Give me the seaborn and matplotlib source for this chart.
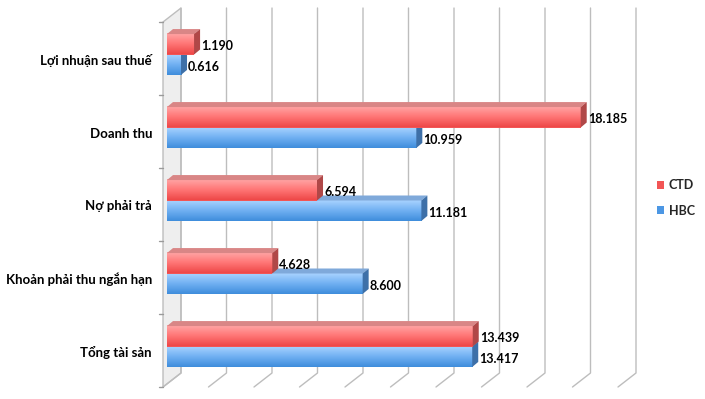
import numpy as np
import pandas as pd
import matplotlib
matplotlib.use('Agg')
import matplotlib.pyplot as plt
import matplotlib.transforms as mtransforms
from matplotlib.patches import Polygon, Patch
from matplotlib.colors import LinearSegmentedColormap
import seaborn as sns

# ---------------- data ----------------
categories = ["Lợi nhuận sau thuế", "Doanh thu", "Nợ phải trả",
              "Khoản phải thu ngắn hạn", "Tổng tài sản"]
series = ["CTD", "HBC"]
ctd_values = [1.190, 18.185, 6.594, 4.628, 13.439]
hbc_values = [0.616, 10.959, 11.181, 8.600, 13.417]
x_grid = list(range(0, 21, 2))

# ---------------- style ----------------
sns.set_theme(style='white')
plt.rcParams['font.family'] = ['Lato', 'DejaVu Sans']
FS_VAL = 9
FS_CAT = 9.5
FS_LEG = 9

base_colors = {"CTD": "#F25555", "HBC": "#4C97E4"}
grad_maps = {
    "CTD": LinearSegmentedColormap.from_list("r", ["#FFA6A6", "#FF7676", "#EE4848"]),
    "HBC": LinearSegmentedColormap.from_list("b", ["#A9D3FF", "#70B0F2", "#3F8DDC"]),
}
top_colors = {"CTD": "#D98686", "HBC": "#7FA9DA"}
side_colors = {"CTD": "#B04848", "HBC": "#3E70A8"}
zbase = {"CTD": 5, "HBC": 3}

df = pd.DataFrame({
    'category': categories * 2,
    'series': [series[0]] * len(categories) + [series[1]] * len(categories),
    'value': ctd_values + hbc_values,
})

W, H = 705, 399
fig = plt.figure(figsize=(W / 100, H / 100), dpi=100)
ax = fig.add_axes([167 / W, 16 / H, 455 / W, 365 / H])

sns.barplot(data=df, x='value', y='category', hue='series', hue_order=series,
            order=categories, orient='h',
            palette=[base_colors[s] for s in series],
            width=0.56, linewidth=0, legend=False, ax=ax, saturation=1)
ax.set_xlim(0, 20)
ax.set_ylim(4.5, -0.5)
ax.axis('off')


def off(dx, dy):
    return mtransforms.offset_copy(ax.transData, fig=fig, x=dx, y=dy, units='dots')


FRONT = (-4, -4)
BACK = (14, 10)
DEPTH = (6, 5)
inv = fig.transFigure.inverted()


def to_fig(pts):
    return inv.transform(np.asarray(pts))


def disp(tr, x, y):
    return tr.transform((x, y))


def add_fig_line(pts, **kw):
    pts = to_fig(pts)
    ln = plt.Line2D(pts[:, 0], pts[:, 1], transform=fig.transFigure, **kw)
    ln.set_clip_on(False)
    ax.add_line(ln)


def add_fig_poly(pts, **kw):
    pg = Polygon(to_fig(pts), closed=True, transform=fig.transFigure, **kw)
    pg.set_clip_on(False)
    ax.add_patch(pg)


ymin_d, ymax_d = -0.5, 4.5
grid_col = '#BDBDBD'

# left wall
fr_top = disp(off(*FRONT), 0, ymin_d)
fr_bot = disp(off(*FRONT), 0, ymax_d)
bk_top = disp(off(*BACK), 0, ymin_d)
bk_bot = disp(off(*BACK), 0, ymax_d)
add_fig_poly([fr_bot, fr_top, bk_top, bk_bot], facecolor='#EEEEEE',
             edgecolor=grid_col, lw=1, zorder=0.5)

# back wall grid lines and floor lines
for xv in x_grid:
    b_top = disp(off(*BACK), xv, ymin_d)
    b_bot = disp(off(*BACK), xv, ymax_d)
    f_bot = disp(off(*FRONT), xv, ymax_d)
    add_fig_line([b_top, b_bot, f_bot], color=grid_col, lw=1, zorder=0.6)

# left ticks at category boundaries
for yb in np.arange(ymin_d, ymax_d + 0.01, 1.0):
    p = disp(off(*FRONT), 0, yb)
    add_fig_line([p, (p[0] - 4, p[1])], color='#9A9A9A', lw=1, zorder=0.6)

# bars: gradient fronts + 3D faces
grad = np.linspace(0, 1, 64).reshape(-1, 1)
for s, cont in zip(series, ax.containers):
    z = zbase[s]
    for patch in cont.patches:
        x0, y0 = patch.get_x(), patch.get_y()
        w, h = patch.get_width(), patch.get_height()
        patch.set_zorder(z)
        ax.imshow(grad, extent=[x0, x0 + w, y0 + h, y0], origin='upper',
                  aspect='auto', cmap=grad_maps[s], zorder=z + 0.1,
                  interpolation='bilinear')
        (L, T) = ax.transData.transform((x0, y0))
        (R, B) = ax.transData.transform((x0 + w, y0 + h))
        dx, dy = DEPTH
        add_fig_poly([(L, T), (R, T), (R + dx, T + dy), (L + dx, T + dy)],
                     facecolor=top_colors[s], edgecolor='none', zorder=z + 0.2)
        add_fig_poly([(R, B), (R, T), (R + dx, T + dy), (R + dx, B + dy)],
                     facecolor=side_colors[s], edgecolor='none', zorder=z + 0.3)
        ax.text(x0 + w, y0 + h / 2, f"{w:.3f}", transform=off(7, -2),
                ha='left', va='center', fontsize=FS_VAL, fontweight='bold',
                color='#000000', zorder=10, clip_on=False)

ax.set_xlim(0, 20)
ax.set_ylim(4.5, -0.5)

# category labels
for i, cat in enumerate(categories):
    ax.text(0, i, cat, transform=off(-15, -6), ha='right', va='center',
            fontsize=FS_CAT, fontweight='bold', color='#000000', clip_on=False)

# legend
handles = [Patch(facecolor=base_colors[s], edgecolor='none') for s in series]
fig.legend(handles, series, loc='center left', bbox_to_anchor=(646 / W, 1 - 198 / H),
           frameon=False, prop={'weight': 'bold', 'size': FS_LEG},
           handlelength=0.55, handleheight=0.55, handletextpad=0.35, labelspacing=1.05)

fig.savefig('out.png', dpi=100)
